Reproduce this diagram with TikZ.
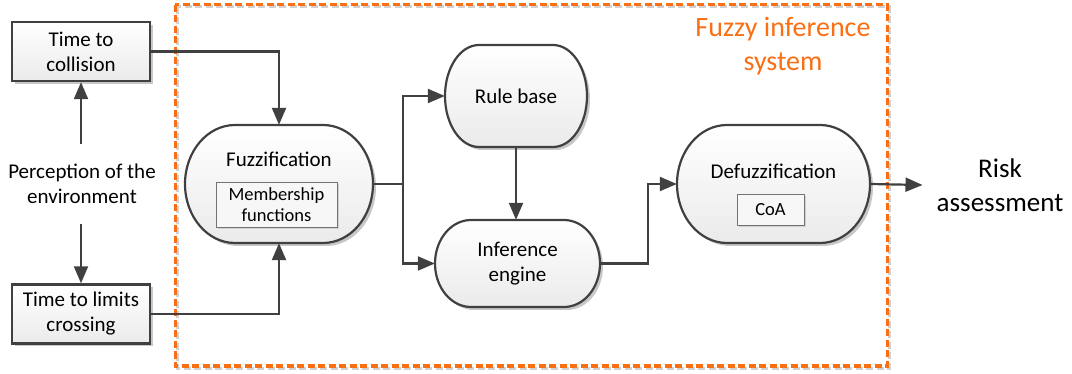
\documentclass[tikz,border=0pt]{standalone}
\usepackage{fontspec}
\setmainfont{Carlito}
\usetikzlibrary{arrows.meta,shadows}
\definecolor{fisorange}{RGB}{250,110,20}
\definecolor{lineGray}{RGB}{64,64,64}

\begin{document}
\begin{tikzpicture}[x=1pt, y=-1pt,
  every node/.style={font=\fontsize{21}{25}\selectfont, align=center},
  link/.style={draw=lineGray, line width=2.2pt, -{Triangle[length=17pt,width=14pt]}},
  inbox/.style={draw=lineGray, line width=2.4pt, top color=white, bottom color=black!8,
    drop shadow={shadow xshift=3pt, shadow yshift=-3pt, fill=black!22, opacity=1},
    minimum width=138pt, minimum height=59pt, inner sep=0pt},
  subbox/.style={draw=black!55, line width=0.8pt, fill=black!3,
    drop shadow={shadow xshift=2pt, shadow yshift=-2pt, fill=black!18, opacity=1},
    font=\fontsize{18.5}{21}\selectfont, inner sep=0pt}]
  \useasboundingbox (0,0) rectangle (1072,374);

  % frame of the fuzzy inference system
  \draw[black!18, line width=3pt, dash pattern=on 7pt off 3.5pt] (177,7) rectangle (889,368);
  \draw[fisorange, line width=3pt, dash pattern=on 7pt off 3.5pt] (175,5) rectangle (887,366);

  % terminator shapes
  \foreach \cx/\cy/\w/\h/\r in {279/184/188/118/50, 516/96/142/102/34, 517.5/263.5/165/87/36, 773.5/184/193/118/50}{
    \pgfmathsetmacro\a{\w/2}
    \pgfmathsetmacro\b{\h/2}
    \fill[black!22, xshift=3pt, yshift=-3pt]
      (\cx-\a+\r,\cy-\b) -- (\cx+\a-\r,\cy-\b) arc[start angle=-90, end angle=90, x radius=\r, y radius=\b]
      -- (\cx-\a+\r,\cy+\b) arc[start angle=90, end angle=270, x radius=\r, y radius=\b] -- cycle;
    \draw[lineGray, line width=2.2pt, top color=white, bottom color=black!8]
      (\cx-\a+\r,\cy-\b) -- (\cx+\a-\r,\cy-\b) arc[start angle=-90, end angle=90, x radius=\r, y radius=\b]
      -- (\cx-\a+\r,\cy+\b) arc[start angle=90, end angle=270, x radius=\r, y radius=\b] -- cycle;
  }

  \node[inbox] (coll) at (81,51.5) {Time to\\collision};
  \node[inbox] (lim) at (81,314) {Time to limits\\crossing};
  \node[inner ysep=20pt] (perc) at (82,184) {Perception of the\\environment};

  \node[minimum width=188pt, minimum height=118pt] (fuzz) at (279,184) {};
  \node (fuzzname) at (279,159) {Fuzzification};
  \node[subbox, minimum width=121pt, minimum height=45pt] (mf) at (276.5,204.5) {Membership\\functions};
  \node[minimum width=142pt, minimum height=102pt] (rule) at (516,96) {Rule base};
  \node[minimum width=165pt, minimum height=87pt] (inf) at (517.5,263.5) {Inference\\engine};
  \node[minimum width=193pt, minimum height=118pt] (defuzz) at (773.5,184) {};
  \node (defuzzname) at (773.5,171) {Defuzzification};
  \node[subbox, minimum width=67pt, minimum height=31pt] (coa) at (770.5,209.5) {CoA};
  \node[font=\fontsize{27}{34}\selectfont, inner xsep=14pt] (risk) at (1000,185) {Risk\\assessment};
  \node[text=fisorange, font=\fontsize{28}{34}\selectfont] (fistitle) at (783,46) {Fuzzy inference\\system};

  \coordinate (split) at (403,184);
  \coordinate (merge) at (648,263.5);

  \draw[link] (coll.south |- perc.north) -- (coll.south);
  \draw[link] (lim.north |- perc.south) -- (lim.north);
  \draw[link] (coll.east) -| (fuzz.north);
  \draw[link] (lim.east) -| (fuzz.south);
  \draw[link, -] (fuzz.east) -- (split);
  \draw[link] (split) |- (rule.west);
  \draw[link] (split) |- (inf.west);
  \draw[link] (rule.south) -- (rule.south |- inf.north);
  \draw[link] (inf.east) -- (merge) |- (defuzz.west);
  \draw[link] (defuzz.east) -- (risk.west);
\end{tikzpicture}
\end{document}
